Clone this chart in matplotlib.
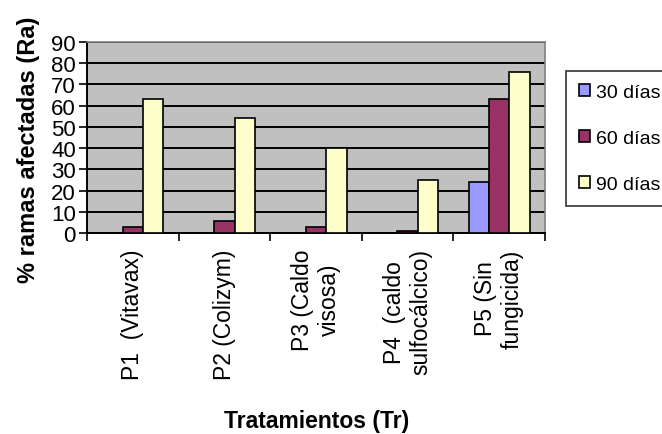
import numpy as np
import matplotlib
matplotlib.use('Agg')
import matplotlib.pyplot as plt
from matplotlib.patches import Rectangle

plt.rcParams['font.family'] = ['Liberation Sans', 'DejaVu Sans']

tratamientos = ['P1  (Vitavax)', 'P2 (Colizym)', 'P3 (Caldo\nvisosa)',
                'P4  (caldo\nsulfocálcico)', 'P5 (Sin\nfungicida)']
dias_30 = [0, 0, 0, 0, 24]
dias_60 = [3, 5.5, 3, 1, 63]
dias_90 = [63, 54, 40, 25, 76]
series = ['30 días', '60 días', '90 días']
colores = ['#9999FF', '#993366', '#FFFFCC']

fig = plt.figure(figsize=(6.62, 4.35), dpi=100)
ax = fig.add_axes([87/662, 1 - 234/435, 458/662, 191/435])

x = np.arange(len(tratamientos))
w = 1 / 4.5
for i, vals in enumerate([dias_30, dias_60, dias_90]):
    ax.bar(x + (i - 1) * w, vals, width=w, color=colores[i],
           edgecolor='black', linewidth=1.2, zorder=3)

ax.set_facecolor('#C0C0C0')
ax.set_ylim(0, 90)
ax.set_xlim(-0.5, len(tratamientos) - 0.5)
ax.set_yticks(range(0, 91, 10))
ax.yaxis.grid(True, color='black', linewidth=1.4, zorder=1)
ax.set_axisbelow(True)

# category boundaries get the tick marks, labels sit in the middle
ax.set_xticks(np.arange(-0.5, len(tratamientos), 1))
ax.set_xticklabels([])
ax.set_xticks(x, minor=True)
ax.set_xticklabels(tratamientos, minor=True, rotation=90, fontsize=16.5,
                   multialignment='center', va='top', ha='center')
ax.tick_params(axis='x', which='minor', length=0, pad=11)
ax.tick_params(axis='x', which='major', length=6, width=1.2, direction='out')
ax.tick_params(axis='y', length=6, width=1.2, direction='out', labelsize=16, pad=2)

for s in ['left', 'bottom']:
    ax.spines[s].set_color('black')
    ax.spines[s].set_linewidth(1.4)
for s in ['top', 'right']:
    ax.spines[s].set_color('#808080')
    ax.spines[s].set_linewidth(1.2)

ax.set_ylabel('% ramas afectadas (Ra)', fontsize=17, fontweight='bold')
ax.yaxis.set_label_coords(-0.103, 0.44)
fig.text(317/662, 1 - 422/435, 'Tratamientos (Tr)', fontsize=16.5,
         fontweight='bold', ha='center', va='center')

handles = [Rectangle((0, 0), 1, 1, facecolor=c, edgecolor='black', linewidth=1.2)
           for c in colores]
leg = fig.legend(handles, series, loc='upper left', bbox_to_anchor=(566/662, 1 - 72/435),
                 fontsize=14, frameon=True, fancybox=False, handlelength=0.6,
                 handleheight=0.6, handletextpad=0.3, labelspacing=1.5,
                 borderpad=0.65, borderaxespad=0)
leg.get_frame().set_edgecolor('black')
leg.get_frame().set_linewidth(1.2)

fig.savefig('out.png', dpi=100)
